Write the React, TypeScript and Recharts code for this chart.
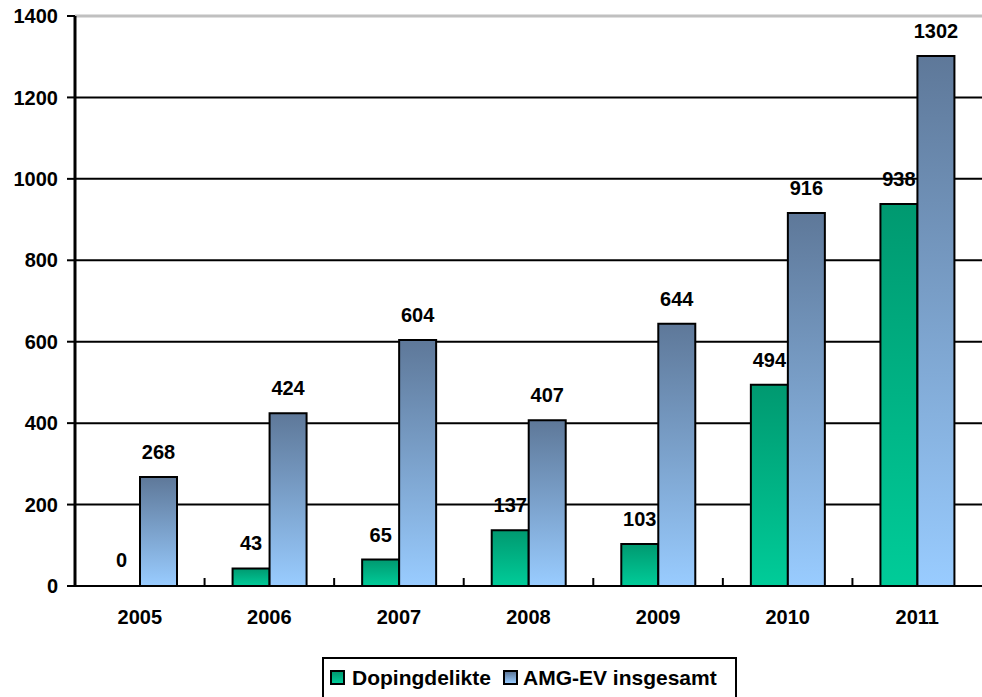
import React from 'react';
import { BarChart, Bar, XAxis, YAxis, CartesianGrid, LabelList, Legend, ReferenceLine, Rectangle } from 'recharts';

const years = ['2005', '2006', '2007', '2008', '2009', '2010', '2011'];
const doping = [0, 43, 65, 137, 103, 494, 938];
const amgEv = [268, 424, 604, 407, 644, 916, 1302];
const yTicks = [0, 200, 400, 600, 800, 1000, 1200, 1400];

const data = years.map((y, i) => ({ year: y, doping: doping[i], amg: amgEv[i] }));

const FONT = 'Arial, "Liberation Sans", Helvetica, sans-serif';
const W = 982;
const H = 697;
const LEFT = 75;
const RIGHT_M = 0;
const BAND = (W - LEFT - RIGHT_M) / years.length;
const FS = 20;

const XTick = (props: any) => {
  const { x, y, payload } = props;
  const bx = x - BAND / 2;
  return (
    <g>
      {payload.index > 0 && (
        <line x1={bx} x2={bx} y1={y} y2={y - 8} stroke="#000" strokeWidth={2} />
      )}
      <text x={x} y={y + 38} textAnchor="middle" fontFamily={FONT} fontWeight="bold" fontSize={FS} fill="#000">
        {payload.value}
      </text>
    </g>
  );
};

const BarShape = (props: any) => {
  const v = Array.isArray(props.value) ? props.value[1] - props.value[0] : props.value;
  if (!v) return <g />;
  return <Rectangle {...props} />;
};

const iconStyle = (bg: string): React.CSSProperties => ({
  position: 'absolute',
  width: 11,
  height: 11,
  border: '2px solid #000',
  background: bg,
});

const textStyle: React.CSSProperties = {
  position: 'absolute',
  fontFamily: FONT,
  fontWeight: 'bold',
  fontSize: 21,
  lineHeight: '21px',
  whiteSpace: 'nowrap',
  color: '#000',
};

const LegendContent = () => (
  <div
    style={{
      position: 'relative',
      width: 415,
      height: 48,
      border: '2px solid #000',
      boxSizing: 'border-box',
      background: '#fff',
    }}
  >
    <span style={{ ...iconStyle('linear-gradient(#009970, #00CC99)'), left: 6, top: 11 }} />
    <span style={{ ...textStyle, left: 28, top: 8 }}>Dopingdelikte</span>
    <span style={{ ...iconStyle('linear-gradient(#5E7899, #99CCFF)'), left: 179, top: 11 }} />
    <span style={{ ...textStyle, left: 199, top: 8 }}>AMG-EV insgesamt</span>
  </div>
);

export default function App() {
  return (
    <div style={{ position: 'absolute', left: 0, top: 0, width: W, height: H, background: '#fff', overflow: 'hidden' }}>
      <BarChart
        width={W}
        height={H}
        data={data}
        margin={{ top: 16, right: RIGHT_M, left: 0, bottom: 0 }}
        barSize={37}
        barGap={0}
      >
        <defs>
          <linearGradient id="gGreen" x1="0" y1="0" x2="0" y2="1">
            <stop offset="0%" stopColor="#009970" />
            <stop offset="100%" stopColor="#00CC99" />
          </linearGradient>
          <linearGradient id="gBlue" x1="0" y1="0" x2="0" y2="1">
            <stop offset="0%" stopColor="#5E7899" />
            <stop offset="100%" stopColor="#99CCFF" />
          </linearGradient>
        </defs>
        <CartesianGrid vertical={false} stroke="#000" strokeWidth={2} />
        <ReferenceLine y={1400} stroke="#C0C0C0" strokeWidth={3} />
        <XAxis
          dataKey="year"
          height={111}
          axisLine={{ stroke: '#000', strokeWidth: 2 }}
          tickLine={false}
          tickSize={0}
          tickMargin={0}
          tick={<XTick />}
          interval={0}
        />
        <YAxis
          width={LEFT}
          domain={[0, 1400]}
          ticks={yTicks}
          interval={0}
          axisLine={{ stroke: '#000', strokeWidth: 3 }}
          tickLine={{ stroke: '#000', strokeWidth: 2 }}
          tickSize={8}
          tickMargin={9}
          tick={{ fontFamily: FONT, fontWeight: 'bold', fontSize: FS, fill: '#000' }}
        />
        <Legend
          content={<LegendContent />}
          wrapperStyle={{ position: 'absolute', top: 657, left: 322, bottom: 'auto', width: 415, height: 0 }}
        />
        <Bar
          dataKey="doping"
          name="Dopingdelikte"
          fill="url(#gGreen)"
          stroke="#000"
          strokeWidth={2}
          minPointSize={1}
          shape={<BarShape />}
          isAnimationActive={false}
        >
          <LabelList dataKey="doping" position="top" offset={18} fill="#000" fontFamily={FONT} fontWeight="bold" fontSize={FS} />
        </Bar>
        <Bar dataKey="amg" name="AMG-EV insgesamt" fill="url(#gBlue)" stroke="#000" strokeWidth={2} isAnimationActive={false}>
          <LabelList dataKey="amg" position="top" offset={18} fill="#000" fontFamily={FONT} fontWeight="bold" fontSize={FS} />
        </Bar>
      </BarChart>
    </div>
  );
}
